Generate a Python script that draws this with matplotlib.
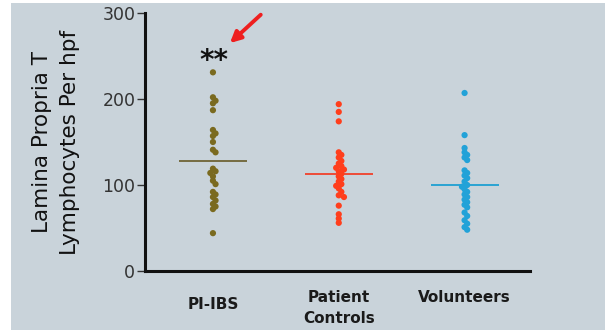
import numpy as np
import matplotlib
matplotlib.use("Agg")
import matplotlib.pyplot as plt
from matplotlib.patches import Rectangle
from matplotlib.transforms import ScaledTranslation

categories = ["PI-IBS", "Patient\nControls", "Volunteers"]
pi_ibs = [231, 202, 198, 195, 187, 164, 160, 157, 150, 141, 138, 119, 116, 114,
          110, 105, 101, 92, 89, 86, 82, 78, 75, 72, 44]
patient_controls = [194, 185, 174, 138, 135, 132, 128, 125, 122, 120, 118, 116, 113,
                    110, 107, 104, 101, 99, 96, 92, 88, 86, 76, 66, 61, 56]
volunteers = [207, 158, 143, 138, 135, 132, 129, 117, 114, 111, 108, 104, 100, 98,
              95, 92, 89, 86, 83, 80, 77, 74, 68, 64, 59, 55, 51, 48]
series = [pi_ibs, patient_controls, volunteers]
yticks = [0, 100, 200, 300]
ylabel = "Lamina Propria T\nLymphocytes Per hpf"
annotation = "**"

point_colors = ["#7a6a1f", "#ff3e1c", "#22a2d8"]
line_colors = ["#6f6436", "#f0402a", "#1e9fd2"]
bg = "#c9d3da"

W, H, DPI = 605, 332, 100
fig = plt.figure(figsize=(W / DPI, H / DPI), dpi=DPI, facecolor="white")
fig.patches.append(Rectangle((11 / W, 2 / H), 1, 1 - 5 / H, transform=fig.transFigure,
                             facecolor=bg, edgecolor="none", zorder=-10))

ax_left, ax_right, ax_top, ax_bot = 145, 530, 13, 271
ax = fig.add_axes([ax_left / W, 1 - ax_bot / H, (ax_right - ax_left) / W, (ax_bot - ax_top) / H])
ax.set_facecolor("none")
ax.set_xlim(-0.54, 2.52)
ax.set_ylim(0, 300)

# simple swarm layout in pixel space
px_per_x = (ax_right - ax_left) / (2.52 + 0.54)
px_per_y = (ax_bot - ax_top) / 300.0
diam = 5.2

def swarm(vals):
    order = np.argsort(vals)[::-1]
    placed = []
    offs = np.zeros(len(vals))
    for i in order:
        yp = vals[i] * px_per_y
        for k in [0, 1, -1, 2, -2, 3, -3]:
            xp = k * diam * 0.5
            ok = all((xp - qx) ** 2 + (yp - qy) ** 2 >= (diam * 0.7) ** 2 for qx, qy in placed)
            if ok:
                break
        placed.append((xp, yp))
        offs[i] = xp / px_per_x
    return offs

for i, vals in enumerate(series):
    vals = np.array(vals, dtype=float)
    xo = swarm(vals)
    ax.scatter(i + xo, vals, s=20, color=point_colors[i], edgecolors="none", zorder=3)
    m = vals.mean()
    ax.hlines(m, i - 0.27, i + 0.27, color=line_colors[i], lw=1.3, zorder=2)

for s in ["top", "right"]:
    ax.spines[s].set_visible(False)
for s in ["left", "bottom"]:
    ax.spines[s].set_linewidth(2.2)
    ax.spines[s].set_color("#111111")

ax.set_yticks(yticks)
ax.set_yticklabels([str(t) for t in yticks], fontsize=12.5, color="#333333")
ax.tick_params(axis="y", direction="out", length=6, width=1.0, color="#333333", pad=1)
ax.set_xticks(range(len(categories)))
ax.set_xticklabels(categories, fontsize=11, fontweight="bold", color="#1a1a1a",
                   linespacing=1.5)
ax.tick_params(axis="x", length=0, pad=14)
labs = ax.get_xticklabels()
labs[0].set_transform(labs[0].get_transform() + ScaledTranslation(0, -5 / 72, fig.dpi_scale_trans))

fig.text(56 / W, 1 - 142 / H, ylabel, rotation=90, ha="center", va="center",
         fontsize=15.5, color="#111111", linespacing=1.5)

ax.text(0.01, 244, annotation, ha="center", va="center", fontsize=20, fontweight="bold",
        color="#111111")
ax.annotate("", xy=(0.135, 265), xytext=(0.38, 298), annotation_clip=False,
            arrowprops=dict(arrowstyle="-|>", color="#ee1f1f", lw=2.8, mutation_scale=16,
                            shrinkA=0, shrinkB=0))

fig.savefig("out.png", dpi=DPI, facecolor="white")
